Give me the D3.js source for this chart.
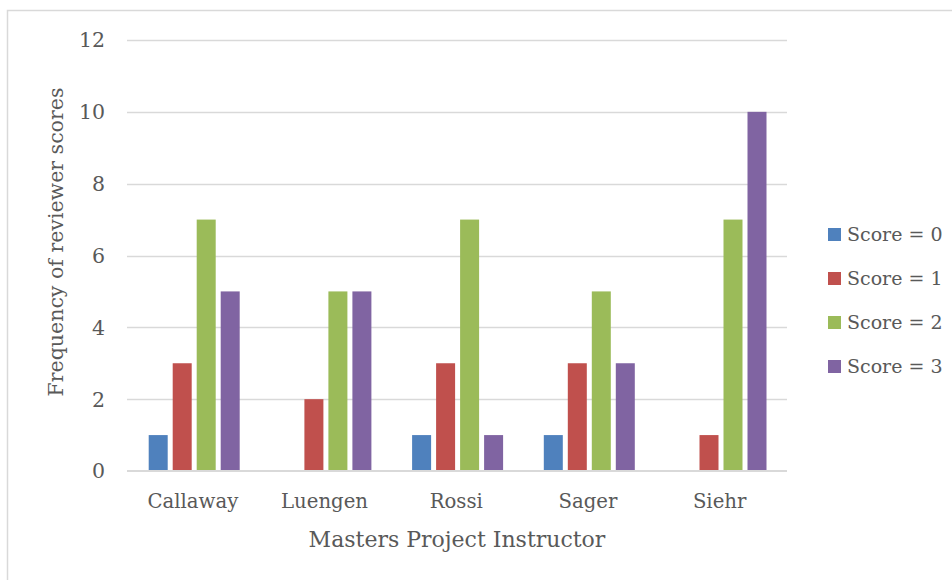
<!DOCTYPE html>
<html><head><meta charset="utf-8">
<script src="https://cdn.jsdelivr.net/npm/d3@7"></script>
<style>body{margin:0;background:#fff}svg{display:block}text{font-family:"DejaVu Serif",serif;fill:#595959}</style>
</head><body>
<svg id="c" width="952" height="580"></svg>
<script>
const categories = ["Callaway","Luengen","Rossi","Sager","Siehr"];
const seriesNames = ["Score = 0","Score = 1","Score = 2","Score = 3"];
const score0 = [1,0,1,1,0];
const score1 = [3,2,3,3,1];
const score2 = [7,5,7,5,7];
const score3 = [5,5,1,3,10];
const colors = ["#4F81BD","#C0504D","#9BBB59","#8064A2"];
const yTicks = [0,2,4,6,8,10,12];
const series = [score0,score1,score2,score3];

const svg = d3.select("#c");
svg.append("path").attr("d","M7.5,581 V10.5 H953").attr("fill","none").attr("stroke","#d9d9d9").attr("stroke-width",1.5);

const L=127,R=785.5,T=40,B=471;
const x0 = d3.scaleBand().domain(categories).range([L,R]);
const x1 = d3.scaleBand().domain(d3.range(4)).range([19.2,115.2]);
const y = d3.scaleLinear().domain([0,12]).range([B,T]);

svg.append("g").selectAll("line").data(yTicks.filter(d=>d>0)).join("line")
  .attr("x1",L).attr("x2",787).attr("y1",d=>Math.round(y(d))+0.5).attr("y2",d=>Math.round(y(d))+0.5)
  .attr("stroke","#d9d9d9").attr("stroke-width",1.3);

svg.append("g").selectAll("text").data(yTicks).join("text")
  .attr("x",105).attr("y",d=>y(d)).attr("dy","0.36em").attr("text-anchor","end")
  .attr("font-size",20.5).text(d=>d);

const g = svg.append("g");
series.forEach((s,i)=>{
  g.selectAll(null).data(categories.map((c,j)=>({c,v:s[j]}))).join("rect")
    .attr("x",d=>x0(d.c)+x1(i)+2.5).attr("width",x1.bandwidth()-5)
    .attr("y",d=>y(d.v)).attr("height",d=>y(0)-y(d.v)).attr("fill",colors[i]);
});

svg.append("line").attr("x1",L).attr("x2",787).attr("y1",y(0)).attr("y2",y(0))
  .attr("stroke","#d9d9d9").attr("stroke-width",2);

svg.append("g").selectAll("text").data(categories).join("text")
  .attr("x",d=>x0(d)+x0.bandwidth()/2).attr("y",508).attr("text-anchor","middle")
  .attr("font-size",19.7).text(d=>d);

svg.append("text").attr("x",457).attr("y",547).attr("text-anchor","middle").attr("font-size",22)
  .text("Masters Project Instructor");
svg.append("text").attr("transform","translate(63,242) rotate(-90)").attr("text-anchor","middle")
  .attr("font-size",20.5).text("Frequency of reviewer scores");

const lg = svg.append("g").selectAll("g").data(seriesNames).join("g")
  .attr("transform",(d,i)=>`translate(828,${234+i*44})`);
lg.append("rect").attr("x",0).attr("y",-6).attr("width",13).attr("height",13).attr("fill",(d,i)=>colors[i]);
lg.append("text").attr("x",19).attr("y",0).attr("dy","0.36em").attr("font-size",19).text(d=>d);
</script>
</body></html>
